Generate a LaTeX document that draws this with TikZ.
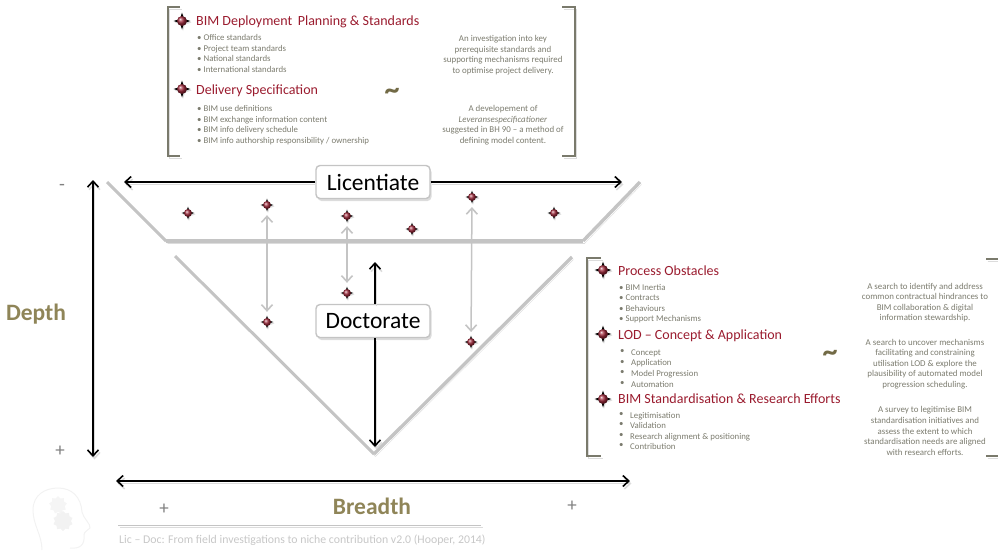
\documentclass[tikz,border=0pt]{standalone}
\usepackage{fontspec}
\setmainfont{Carlito}
\usepackage{xcolor}
\usetikzlibrary{shapes.geometric,arrows.meta,shadows}
\definecolor{titlered}{HTML}{9A1B2E}
\definecolor{bodygrey}{HTML}{7B7B6E}
\definecolor{olive}{HTML}{8F8558}
\definecolor{linegrey}{HTML}{C4C4C4}
\definecolor{brackgrey}{HTML}{7A7A6C}
\definecolor{shadowgrey}{HTML}{DCDCDC}
\definecolor{ballred}{HTML}{A02A3C}

\begin{document}
\begin{tikzpicture}[x=1pt,y=-1pt,
    >={Straight Barb[length=6pt,width=11pt,line width=1.6pt]},
    shadowed/.style={preaction={draw=shadowgrey,transform canvas={shift={(1.5pt,-2.5pt)}}}},
    blackarrow/.style={draw=black,line width=1.7pt,shadowed},
    greyarrow/.style={draw=linegrey,line width=1.5pt,<->,shorten <=3pt,shorten >=3pt},
    funnel/.style={draw=linegrey,line width=3pt,shadowed},
    bracket/.style={draw=brackgrey,line width=1.3pt,shadowed},
    stagebox/.style={draw=linegrey,line width=1.4pt,fill=white,rounded corners=4pt,
        minimum width=114pt,minimum height=33pt,inner sep=0pt,font=\fontsize{23.5}{23.5}\selectfont,
        drop shadow={shadow xshift=1.5pt,shadow yshift=-2.5pt,fill=shadowgrey,opacity=1}},
    heading/.style={anchor=west,inner sep=0pt,text=titlered,font=\fontsize{14}{15}\selectfont},
    items/.style={anchor=north west,inner sep=0pt,align=left,text=bodygrey,font=\fontsize{8.8}{10.55}\selectfont},
    remark/.style={inner sep=0pt,align=center,text=bodygrey,font=\fontsize{8.9}{10.55}\selectfont},
    axisname/.style={inner sep=0pt,text=olive,font=\fontsize{23.5}{23.5}\selectfont\bfseries},
    axissign/.style={inner sep=0pt,text=gray,font=\fontsize{19}{19}\selectfont},
    tilde/.style={inner sep=0pt,text=olive!80!black,font=\fontsize{30}{30}\selectfont\bfseries},
    markstar/.style={shape=star,star points=4,star point ratio=3,fill=black,inner sep=0pt,minimum size=#1,
        drop shadow={shadow xshift=1pt,shadow yshift=-1.5pt,fill=shadowgrey,opacity=1}},
    markball/.style={shape=circle,ball color=ballred,inner sep=0pt,minimum size=#1}]
    \useasboundingbox (0,0) rectangle (998,550);

    % funnel
    \draw[funnel] (107,182) -- (166,241);
    \draw[funnel,line width=4.2pt] (166,241) -- (583,241);
    \draw[funnel,line width=3.4pt] (583,241) -- (640,182);
    \draw[funnel] (175,256) -- (374,454);
    \draw[funnel,line width=3.4pt] (374,454) -- (572,257);

    % stage boxes
    \node[stagebox] (lic) at (373,182) {Licentiate};
    \node[stagebox] (doc) at (373,321) {Doctorate};

    \coordinate (licleft) at (124,182);
    \coordinate (licright) at (622,182);
    \coordinate (docup) at (375,262);
    \coordinate (docdown) at (375,447);
    \draw[blackarrow,->] (lic) -- (licleft);
    \draw[blackarrow,->] (lic) -- (licright);
    \draw[blackarrow,->] (doc.north -| docup) -- (docup);
    \draw[blackarrow,->] (doc.south -| docdown) -- (docdown);

    % axes
    \coordinate (depthtop) at (93,180);
    \coordinate (depthbot) at (93,457);
    \coordinate (breadthl) at (116,481);
    \coordinate (breadthr) at (630,481);
    \draw[blackarrow,<->] (depthtop) -- (depthbot);
    \draw[blackarrow,<->] (breadthl) -- (breadthr);
    \node[axisname] (depth) at (36,314) {Depth};
    \node[axisname] (breadth) at (372,506) {Breadth};
    \node[axissign] (signminus) at (62,187) {-};
    \node[axissign] (signdepth) at (60,451) {+};
    \node[axissign] (signleft) at (164,509) {+};
    \node[axissign] (signright) at (572,506) {+};

    % small marks in the funnel
    \node[markstar=13pt] (ma) at (188,213) {};
    \node[markstar=13pt] (mb) at (267,205) {};
    \node[markstar=13pt] (mc) at (347,216) {};
    \node[markstar=13pt] (md) at (412,229) {};
    \node[markstar=13pt] (me) at (472,197) {};
    \node[markstar=13pt] (mf) at (554,213) {};
    \node[markstar=13pt] (mg) at (347,293) {};
    \node[markstar=13pt] (mh) at (267,322) {};
    \node[markstar=13pt] (mi) at (471,342) {};
    \node[markball=8pt] (ba) at (ma) {};
    \node[markball=8pt] (bb) at (mb) {};
    \node[markball=8pt] (bc) at (mc) {};
    \node[markball=8pt] (bd) at (md) {};
    \node[markball=8pt] (be) at (me) {};
    \node[markball=8pt] (bf) at (mf) {};
    \node[markball=8pt] (bg) at (mg) {};
    \node[markball=8pt] (bh) at (mh) {};
    \node[markball=8pt] (bi) at (mi) {};
    \draw[greyarrow] (mb) -- (mh);
    \draw[greyarrow] (mc) -- (mg);
    \draw[greyarrow] (me) -- (mi);

    % top panel
    \draw[bracket] (180,7) -- (168,7) -- (168,156) -- (180,156);
    \draw[bracket] (562,7) -- (575,7) -- (575,156) -- (562,156);
    \node[markstar=17pt] (ta) at (182,21) {};
    \node[markball=10pt] (tab) at (ta) {};
    \node[heading] (bimplan) at (196,22) {BIM Deployment\, Planning \& Standards};
    \node[items] (planitems) at (197,34.5) {• Office standards\\• Project team standards\\• National standards\\• International standards};
    \node[markstar=17pt] (tb) at (182,89) {};
    \node[markball=10pt] (tbb) at (tb) {};
    \node[heading] (delivery) at (196,91) {Delivery Specification};
    \node[items] (delitems) at (197,105.5) {• BIM use definitions\\• BIM exchange information content\\• BIM info delivery schedule\\• BIM info authorship responsibility / ownership};
    \node[tilde] (tildetop) at (392,94) {\symbol{126}};
    \node[remark] (planremark) at (503,55) {An investigation into key\\prerequisite standards and\\supporting mechanisms required\\to optimise project delivery.};
    \node[remark] (delremark) at (503,125) {A developement of\\\textit{Leveransespecificationer}\\suggested in BH 90 – a method of\\defining model content.};

    % right panel
    \draw[bracket] (601,258) -- (587,258) -- (587,456) -- (601,456);
    \draw[bracket] (986,259) -- (998,259);
    \draw[bracket] (986,456) -- (998,456);
    \node[markstar=17pt] (ra) at (603,270) {};
    \node[markball=10pt] (rab) at (ra) {};
    \node[heading] (obstacles) at (618,271) {Process Obstacles};
    \node[items] (obsitems) at (619,284) {• BIM Inertia\\• Contracts\\• Behaviours\\• Support Mechanisms};
    \node[markstar=17pt] (rb) at (603,334) {};
    \node[markball=10pt] (rbb) at (rb) {};
    \node[heading] (lod) at (618,336) {LOD – Concept \& Application};
    \node[items] (lodbullets) at (620,349.5) {•\\•\\•\\•};
    \node[items] (loditems) at (631,349.5) {Concept\\Application\\Model Progression\\Automation};
    \node[markstar=17pt] (rc) at (603,399) {};
    \node[markball=10pt] (rcb) at (rc) {};
    \node[heading] (standard) at (618,399) {BIM Standardisation \& Research Efforts};
    \node[items] (stdbullets) at (619,412) {•\\•\\•\\•};
    \node[items] (stditems) at (630,412) {Legitimisation\\Validation\\Research alignment \& positioning\\Contribution};
    \node[tilde] (tilderight) at (830,356) {\symbol{126}};
    \node[remark] (obsremark) at (925,302.5) {A search to identify and address\\common contractual hindrances to\\BIM collaboration \& digital\\information stewardship.};
    \node[remark] (lodremark) at (925,364) {A search to uncover mechanisms\\facilitating and constraining\\utilisation LOD \& explore the\\plausibility of automated model\\progression scheduling.};
    \node[remark] (stdremark) at (925,431) {A survey to legitimise BIM\\standardisation initiatives and\\assess the extent to which\\standardisation needs are aligned\\with research efforts.};

    % footer
    \draw[draw=linegrey,line width=1pt,shadowed] (118,525) -- (481,525);
    \node[anchor=west,inner sep=0pt,text=black!22,font=\fontsize{11.8}{12}\selectfont] (footer) at (119,540) {Lic – Doc: From field investigations to niche contribution v2.0 (Hooper, 2014)};

    % head icon
    \draw[black!5,line width=1pt] (42,550) .. controls (42,535) and (33,525) .. (33,510)
        .. controls (33,495) and (45,488) .. (58,488)
        .. controls (72,488) and (81,497) .. (82,512)
        .. controls (83,518) and (91,524) .. (90,528)
        .. controls (88,531) and (84,531) .. (84,535)
        .. controls (85,545) and (80,549) .. (70,548);
    \node[shape=star,star points=9,star point ratio=1.3,fill=black!4,inner sep=0pt,minimum size=18pt] (gearup) at (58,505) {};
    \node[shape=star,star points=10,star point ratio=1.25,fill=black!5,inner sep=0pt,minimum size=20pt] (geardown) at (63,521) {};
\end{tikzpicture}
\end{document}
